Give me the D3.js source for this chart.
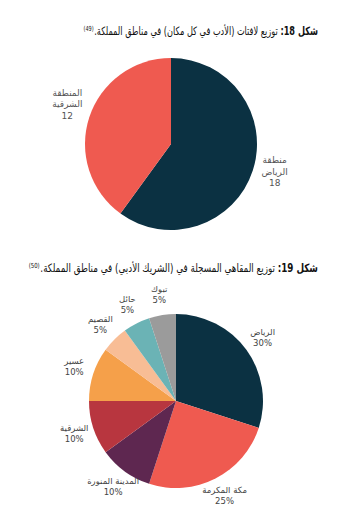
<!DOCTYPE html>
<html><head><meta charset="utf-8">
<script src="https://cdn.jsdelivr.net/npm/d3@7"></script>
<style>
body{margin:0;background:#fff}
svg{display:block}
text{font-family:"DejaVu Sans","Noto Sans",sans-serif}
</style>
</head><body>
<svg id="c" width="340" height="521"></svg>
<script>
// ---- Figure 18 data ----
const fig1TitleBold = "شكل 18:";
const fig1TitleRest = " توزيع لافتات (الأدب في كل مكان) في مناطق المملكة.";
const fig1Ref = "(49)";
const fig1Labels = [["منطقة","الرياض"],["المنطقة","الشرقية"]];
const fig1Values = [18, 12];
const fig1Colors = ["#0b3142", "#ef5a50"];

// ---- Figure 19 data ----
const fig2TitleBold = "شكل 19:";
const fig2TitleRest = " توزيع المقاهي المسجلة في (الشريك الأدبي) في مناطق المملكة.";
const fig2Ref = "(50)";
const fig2Labels = ["الرياض","مكة المكرمة","المدينة المنورة","الشرقية","عسير","القصيم","حائل","تبوك"];
const fig2Values = [30, 25, 10, 10, 10, 5, 5, 5];
const fig2Colors = ["#0b3142","#ef5a50","#5e2750","#b8363f","#f5a04a","#f8bd95","#6bb3b5","#9b9b9b"];

const svg = d3.select("#c");

function title(y, bold, rest, ref, targetW) {
  const xr = 318;
  const g = svg.append("g");
  const t = g.append("text").attr("x", xr).attr("y", y)
    .attr("direction", "rtl").attr("text-anchor", "start")
    .attr("font-size", 11.5).attr("fill", "#111");
  t.append("tspan").attr("font-weight", "bold").text(bold);
  t.append("tspan").text(rest);
  const w = t.node().getComputedTextLength();
  g.append("text").attr("x", xr - w - 0.5).attr("y", y - 4)
    .attr("text-anchor", "end").attr("font-size", 7).attr("fill", "#111")
    .text(ref);
  const s = Math.min(1, targetW / w);
  g.attr("transform", `translate(${xr},0) scale(${s},1) translate(${-xr},0)`);
}

function pie(cx, cy, r, values, colors, labels, labelR, lift, fontSize, lineH, fmt, labelColor) {
  const g = svg.append("g").attr("transform", `translate(${cx},${cy})`);
  const arcs = d3.pie().sort(null).value(d => d)(values);
  const arc = d3.arc().innerRadius(0).outerRadius(r);
  g.selectAll("path.s").data(arcs).join("path").attr("class", "s")
    .attr("d", arc).attr("fill", (d, i) => colors[i]);
  const la = d3.arc().innerRadius(labelR).outerRadius(labelR);
  arcs.forEach((d, i) => {
    const [x, y] = la.centroid(d);
    const lines = labels[i].concat([fmt(values[i])]);
    const t = g.append("text").attr("text-anchor", "middle")
      .attr("font-size", fontSize).attr("fill", labelColor);
    const y0 = y - lift - (lines.length - 1) * lineH / 2 + fontSize * 0.35;
    lines.forEach((l, k) => {
      t.append("tspan").attr("x", x).attr("y", y0 + k * lineH).text(l);
    });
  });
}

title(35, fig1TitleBold, fig1TitleRest, fig1Ref, 224);
pie(171, 144, 86, fig1Values, fig1Colors, fig1Labels, 109, 6, 9, 11.5, v => String(v), "#555");

title(272, fig2TitleBold, fig2TitleRest, fig2Ref, 278);
pie(176, 401, 87, fig2Values, fig2Colors, fig2Labels.map(l => [l]), 107, 1, 8.5, 11, v => v + "%", "#444");
</script>
</body></html>
